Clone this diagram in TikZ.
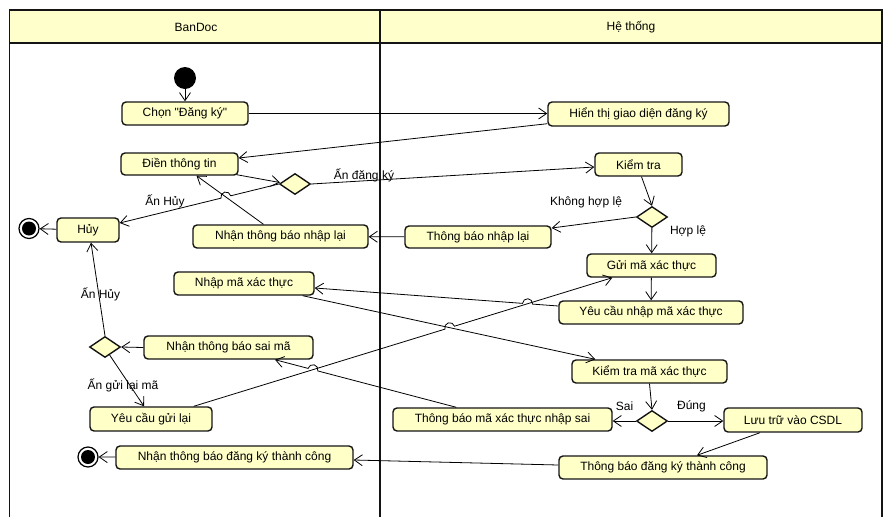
\documentclass[tikz,border=0pt]{standalone}
\usepackage{fontspec}
\setmainfont{Liberation Sans}[Ligatures=TeXOff]
\usetikzlibrary{arrows.meta,shapes.geometric,calc,intersections}
\definecolor{actfill}{RGB}{255,255,200}
\definecolor{headfill}{RGB}{255,255,204}
\definecolor{ink}{RGB}{20,20,20}

\tikzset{
  act/.style={draw=ink, line width=1.4pt, rounded corners=4pt, fill=actfill,
    minimum height=23pt, inner sep=0pt, font=\fontsize{12}{14}\selectfont},
  choice/.style={diamond, draw=ink, line width=1.4pt, fill=actfill,
    minimum width=31pt, minimum height=21pt, inner sep=0pt},
  initial/.style={circle, fill=black, minimum size=22pt, inner sep=0pt},
  final/.style={circle, draw=black, line width=1.2pt, fill=white,
    minimum size=20pt, inner sep=0pt,
    path picture={\fill[black] (path picture bounding box.center) circle (7pt);}},
  flow/.style={draw=black, line width=0.8pt, -{Straight Barb[length=8pt,width=11pt]}},
  lbl/.style={font=\fontsize{12}{14}\selectfont, inner sep=0pt},
  lane/.style={draw=ink, line width=1.8pt},
}

\begin{document}
\begin{tikzpicture}[x=1pt,y=1pt]
\useasboundingbox (0,0) rectangle (892,-517);

% swimlanes
\fill[headfill] (9.5,-10) rectangle (882,-43);
\draw[lane] (9.5,-517) -- (9.5,-10) -- (882,-10) -- (882,-517);
\draw[lane] (9.5,-43) -- (882,-43);
\draw[lane] (380,-10) -- (380,-517);
\node[lbl] (laneA) at (196,-27) {BanDoc};
\node[lbl] (laneB) at (631,-27) {Hệ thống};

% activities
\node[initial] (start) at (185,-78) {};
\node[act, minimum width=126pt] (chon) at (185,-113.5) {Chọn "Đăng ký"};
\node[act, minimum width=181pt, minimum height=24pt] (hien) at (638.5,-114) {Hiển thị giao diện đăng ký};
\node[act, minimum width=117pt, minimum height=22pt] (dien) at (179.5,-164) {Điền thông tin};
\node[choice] (d1) at (295,-184) {};
\node[act, minimum width=87pt] (kiem) at (638.5,-164.5) {Kiểm tra};
\node[act, minimum width=62pt, minimum height=24pt] (huy) at (88,-230) {Hủy};
\node[final] (end1) at (29,-228.5) {};
\node[act, minimum width=175pt] (nhannl) at (280.5,-236.5) {Nhận thông báo nhập lại};
\node[act, minimum width=146pt, minimum height=22pt] (tbnl) at (478,-237) {Thông báo nhập lại};
\node[choice] (d2) at (652,-217) {};
\node[act, minimum width=129pt] (gui) at (651.5,-265.5) {Gửi mã xác thực};
\node[act, minimum width=140pt] (nhapma) at (244,-283.5) {Nhập mã xác thực};
\node[act, minimum width=184pt] (ycnhap) at (651,-312.5) {Yêu cầu nhập mã xác thực};
\node[choice] (d4) at (105,-347) {};
\node[act, minimum width=169pt] (nhansai) at (228.5,-347.5) {Nhận thông báo sai mã};
\node[act, minimum width=155pt] (kiemma) at (649.5,-371.5) {Kiểm tra mã xác thực};
\node[choice] (d3) at (652,-421) {};
\node[act, minimum width=219pt] (tbsai) at (502.5,-419.5) {Thông báo mã xác thực nhập sai};
\node[act, minimum width=138pt, minimum height=24pt] (luu) at (793,-420) {Lưu trữ vào CSDL};
\node[act, minimum width=122pt, minimum height=24pt] (ycgl) at (151,-419) {Yêu cầu gửi lại};
\node[final] (end2) at (88,-457) {};
\node[act, minimum width=237pt] (nhantc) at (234.5,-457.5) {Nhận thông báo đăng ký thành công};
\node[act, minimum width=208pt] (tbtc) at (663,-467.5) {Thông báo đăng ký thành công};

% guide paths for the line crossings
\path[name path=p12] ($(nhannl.north)+(-17,0)$) -- ($(dien.south)+(17,0)$);
\path[name path=p6] (d1.west) -- ($(huy.east)+(0,7)$);
\path[name path=p15] ($(nhapma.south east)+(-12,0)$) -- ($(kiemma.north west)+(24,0)$);
\path[name path=p26] ($(ycgl.north east)+(-19,0)$) -- ($(gui.south west)+(26,0)$);
\path[name path=p14] ($(ycnhap.west)+(0,6.5)$) -- ($(nhapma.east)+(0,-4.5)$);
\path[name path=p22] ($(tbsai.north west)+(64,0)$) -- ($(nhansai.south)+(46.5,0)$);
\path[name intersections={of=p6 and p12, by=x6}];
\path[name intersections={of=p26 and p15, by=x26}];
\path[name intersections={of=p14 and p26, by=x14}];
\path[name intersections={of=p22 and p26, by=x22}];

% flows
\draw[flow] (start) -- (chon);
\draw[flow] (chon.east) -- (chon.east -| hien.west);
\draw[flow] ($(hien.south west)+(0,3)$) -- ($(dien.east)+(0,6)$);
\draw[flow] ($(dien.south east)+(-2,1)$) -- ($(d1.west)+(1,1.5)$);
\draw[flow] (d1.east) -- ($(kiem.west)+(0,-2.5)$);
\draw[flow] let \p1=(d1.west), \p2=($(huy.east)+(0,7)$), \n1={atan2(\y2-\y1,\x2-\x1)} in
  (\p1) -- ($(x6)!5pt!(\p1)$) arc[start angle=\n1+180, end angle=\n1+360, radius=5pt] -- (\p2);
\draw[flow] (huy) -- (end1);
\draw[flow] ($(kiem.south)+(3,0)$) -- (d2.north);
\draw[flow] (d2.west) -- ($(tbnl.east)+(0,9)$);
\draw[flow] (d2) -- (gui);
\draw[flow] (tbnl) -- (nhannl);
\draw[flow] ($(nhannl.north)+(-17,0)$) -- ($(dien.south)+(17,0)$);
\draw[flow] (gui) -- (ycnhap);
\draw[flow] let \p1=($(ycnhap.west)+(0,6.5)$), \p2=($(nhapma.east)+(0,-4.5)$), \n1={atan2(\y2-\y1,\x2-\x1)} in
  (\p1) -- ($(x14)!5pt!(\p1)$) arc[start angle=\n1+180, end angle=\n1+360, radius=5pt] -- (\p2);
\draw[flow] ($(nhapma.south east)+(-12,0)$) -- ($(kiemma.north west)+(24,0)$);
\draw[flow] (kiemma.south) -- (d3.north);
\draw[flow] (d3.west) -- (d3.west -| tbsai.east);
\draw[flow] (d3.east) -- (d3.east -| luu.west);
\draw[flow] ($(luu.south)+(-33,0)$) -- ($(tbtc.north)+(34,0)$);
\draw[flow] ($(tbtc.west)+(0,2.5)$) -- ($(nhantc.east)+(0,-2.5)$);
\draw[flow] (nhantc) -- (end2);
\draw[flow] let \p1=($(tbsai.north west)+(64,0)$), \p2=($(nhansai.south)+(46.5,0)$), \n1={atan2(\y2-\y1,\x2-\x1)} in
  (\p1) -- ($(x22)!5pt!(\p1)$) arc[start angle=\n1+180, end angle=\n1+360, radius=5pt] -- (\p2);
\draw[flow] (nhansai.west) -- (d4.east);
\draw[flow] (d4.north) -- ($(huy.south)+(3,0)$);
\draw[flow] (d4.-60) -- ($(ycgl.north)+(-7,0)$);
\draw[flow] let \p1=($(ycgl.north east)+(-19,0)$), \p2=($(gui.south west)+(26,0)$), \n1={atan2(\y2-\y1,\x2-\x1)} in
  (\p1) -- ($(x26)!5pt!(\p1)$) arc[start angle=\n1+180, end angle=\n1, radius=5pt] -- (\p2);

% guards
\node[lbl] (lhuy1) at (165,-201) {Ấn Hủy};
\node[lbl] (ldk) at (364,-175) {Ấn đăng ký};
\node[lbl] (lkhl) at (586,-202) {Không hợp lệ};
\node[lbl] (lhl) at (688,-231) {Hợp lệ};
\node[lbl] (lhuy2) at (100.5,-294) {Ấn Hủy};
\node[lbl] (lgl) at (123,-385.5) {Ấn gửi lại mã};
\node[lbl] (lsai) at (624.5,-406) {Sai};
\node[lbl] (ldung) at (691.5,-406) {Đúng};
\end{tikzpicture}
\end{document}
